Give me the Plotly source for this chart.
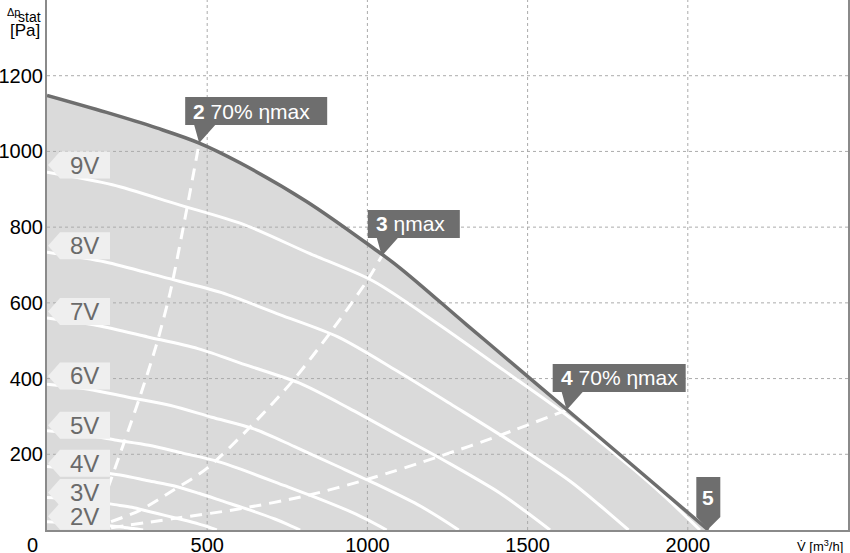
import plotly.graph_objects as go

# ---------------- data ----------------
max_x = [0, 186, 342, 475, 602, 810, 1018, 1102, 1310, 1500, 1830, 2064]
max_y = [1148, 1103, 1062, 1022, 970, 868, 745, 692, 542, 406, 169, 0]

volt_names = ["9V", "8V", "7V", "6V", "5V", "4V", "3V", "2V"]
label_y = [964, 751, 577, 407, 277, 176, 99, 36]

v9_x = [0, 204, 408, 611, 815, 1019, 1223, 1427, 1630, 1834, 1936, 2038]
v9_y = [945, 912, 860, 808, 732, 657, 543, 421, 298, 158, 82, 0]
v8_x = [0, 182, 363, 545, 726, 908, 1089, 1271, 1452, 1634, 1724, 1815]
v8_y = [734, 708, 668, 627, 569, 510, 422, 327, 231, 128, 66, 0]
v7_x = [0, 157, 314, 471, 628, 785, 942, 1099, 1256, 1413, 1492, 1570]
v7_y = [560, 540, 510, 479, 434, 389, 322, 249, 176, 98, 50, 0]
v6_x = [0, 129, 257, 386, 514, 643, 771, 900, 1028, 1157, 1221, 1285]
v6_y = [385, 372, 350, 329, 298, 268, 221, 171, 121, 67, 35, 0]
v5_x = [0, 106, 212, 318, 424, 530, 636, 742, 848, 954, 1007, 1060]
v5_y = [262, 253, 238, 224, 203, 182, 151, 117, 83, 46, 24, 0]
v4_x = [0, 79, 158, 237, 316, 395, 474, 553, 632, 711, 751, 790]
v4_y = [168, 162, 153, 144, 130, 117, 97, 75, 53, 29, 15, 0]
v3_x = [0, 53, 106, 159, 212, 265, 318, 371, 424, 477, 504, 530]
v3_y = [86, 83, 78, 74, 67, 60, 49, 38, 27, 15, 8, 0]
v2_x = [0, 60, 120, 180, 240, 270, 300]
v2_y = [22, 20, 17, 12.6, 7, 3.9, 0]

sys2_x = [190, 240, 290, 340, 384, 430, 475]
sys2_y = [110, 230, 352, 485, 626, 820, 1022]
sys3_x = [200, 290, 394, 498, 634, 769, 883, 1001, 1045]
sys3_y = [22, 52, 105, 162, 272, 396, 520, 661, 724]
sys4_x = [200, 394, 602, 811, 1001, 1227, 1414, 1622]
sys4_y = [6, 30, 56, 91, 134, 195, 250, 317]

callout_num = ["2", "3", "4"]
callout_txt = ["70% ηmax", "ηmax", "70% ηmax"]
callout_x = [475, 1045, 1622]
callout_y = [1022, 724, 317]
point5_x = 2064
point5_y = 0

x_ticks = [500, 1000, 1500, 2000]
y_ticks = [200, 400, 600, 800, 1000, 1200]

# ---------------- styles ----------------
FONT = "Liberation Sans, Arial, sans-serif"
FILL = "#dadada"
DARK = "#6e6e6e"
GRID = "#ababab"
LABEL_BG = "#efefef"
LABEL_TXT = "#6a6a6a"
callout_w = [142, 92, 133]

fig = go.Figure()

# filled area under max curve
fig.add_trace(go.Scatter(x=max_x, y=max_y, mode="lines", fill="tozeroy",
                         fillcolor=FILL, line=dict(width=0, shape="spline", smoothing=1.0),
                         hoverinfo="skip", showlegend=False))

# grid lines drawn above the fill
gx, gy = [], []
for v in x_ticks:
    gx += [v, v, None]
    gy += [0, 1400, None]
for v in y_ticks:
    gx += [0, 2500, None]
    gy += [v, v, None]
fig.add_trace(go.Scatter(x=gx, y=gy, mode="lines", line=dict(color=GRID, width=1, dash="3px,3px"),
                         hoverinfo="skip", showlegend=False))

# voltage curves
for xs, ys in [(v9_x, v9_y), (v8_x, v8_y), (v7_x, v7_y), (v6_x, v6_y),
               (v5_x, v5_y), (v4_x, v4_y), (v3_x, v3_y), (v2_x, v2_y)]:
    fig.add_trace(go.Scatter(x=xs, y=ys, mode="lines",
                             line=dict(color="white", width=3, shape="spline", smoothing=0.8),
                             hoverinfo="skip", showlegend=False))

# system (efficiency) curves, dashed
for xs, ys in [(sys2_x, sys2_y), (sys3_x, sys3_y), (sys4_x, sys4_y)]:
    fig.add_trace(go.Scatter(x=xs, y=ys, mode="lines",
                             line=dict(color="white", width=3, dash="12px,8px", shape="spline", smoothing=0.8),
                             hoverinfo="skip", showlegend=False))

# max curve
fig.add_trace(go.Scatter(x=max_x, y=max_y, mode="lines",
                         line=dict(color=DARK, width=3.5, shape="spline", smoothing=1.0),
                         hoverinfo="skip", showlegend=False))

shapes = []
annotations = []

# voltage labels
for name, ly in zip(volt_names, label_y):
    shapes.append(dict(type="path", xref="x", yref="y", xsizemode="pixel", ysizemode="pixel",
                       xanchor=0, yanchor=ly,
                       path="M1,0 L13,13.5 L63,13.5 L63,-13.5 L13,-13.5 Z",
                       fillcolor=LABEL_BG, line=dict(width=0), layer="above"))
    annotations.append(dict(x=0, y=ly, xref="x", yref="y", text=name, showarrow=False,
                            xanchor="center", yanchor="middle", xshift=37.5, yshift=0,
                            font=dict(family=FONT, size=24, color=LABEL_TXT)))

# callouts 2,3,4
PH, BH = 18, 28
for num, txt, cx, cy, w in zip(callout_num, callout_txt, callout_x, callout_y, callout_w):
    path = (f"M0,0 L-5,{PH} L-14,{PH} L-14,{PH+BH} L{w-14},{PH+BH} "
            f"L{w-14},{PH} L16,{PH} Z")
    shapes.append(dict(type="path", xref="x", yref="y", xsizemode="pixel", ysizemode="pixel",
                       xanchor=cx, yanchor=cy, path=path,
                       fillcolor=DARK, line=dict(width=0), layer="above"))
    annotations.append(dict(x=cx, y=cy, xref="x", yref="y", text=f"<b>{num}</b> {txt}",
                            showarrow=False, xanchor="left", yanchor="middle",
                            xshift=-8, yshift=PH + BH / 2,
                            font=dict(family=FONT, size=21, color="white")))

# callout 5
shapes.append(dict(type="path", xref="x", yref="y", xsizemode="pixel", ysizemode="pixel",
                   xanchor=point5_x, yanchor=point5_y,
                   path="M0,1 L-12,13 L-12,53 L12,53 L12,13 Z",
                   fillcolor=DARK, line=dict(width=0), layer="above"))
annotations.append(dict(x=point5_x, y=point5_y, xref="x", yref="y", text="<b>5</b>",
                        showarrow=False, xanchor="center", yanchor="middle",
                        xshift=0, yshift=33,
                        font=dict(family=FONT, size=21, color="white")))

# axis titles and corner zero
annotations += [
    dict(xref="paper", yref="paper", x=0, y=1, text="Δp", showarrow=False,
         xanchor="right", yanchor="middle", xshift=-25, yshift=-12,
         font=dict(family=FONT, size=11, color="black")),
    dict(xref="paper", yref="paper", x=0, y=1, text="stat", showarrow=False,
         xanchor="right", yanchor="middle", xshift=-4, yshift=-17,
         font=dict(family=FONT, size=14, color="black")),
    dict(xref="paper", yref="paper", x=0, y=1, text="[Pa]", showarrow=False,
         xanchor="right", yanchor="middle", xshift=-5, yshift=-30,
         font=dict(family=FONT, size=17, color="black")),
    dict(xref="paper", yref="paper", x=1, y=0, text="V̇ [m<sup>3</sup>/h]", showarrow=False,
         xanchor="left", yanchor="middle", xshift=-53, yshift=-16,
         font=dict(family=FONT, size=13, color="black")),
    dict(xref="paper", yref="paper", x=0, y=0, text="0", showarrow=False,
         xanchor="center", yanchor="middle", xshift=-15, yshift=-15,
         font=dict(family=FONT, size=20, color="black")),
]

fig.update_layout(
    width=850, height=553,
    margin=dict(l=47, r=2, t=0, b=23, pad=0, autoexpand=False),
    paper_bgcolor="white", plot_bgcolor="white",
    showlegend=False,
    shapes=shapes, annotations=annotations,
    font=dict(family=FONT, size=20, color="black"),
    xaxis=dict(range=[0, 2500], tickvals=x_ticks, showgrid=False, zeroline=False,
               showline=True, linecolor="#8a8a8a", linewidth=2, mirror=True,
               ticks="", tickfont=dict(family=FONT, size=20, color="black"),
               ticklabelstandoff=-4, automargin=False, fixedrange=True),
    yaxis=dict(range=[0, 1400], tickvals=y_ticks, showgrid=False, zeroline=False,
               showline=True, linecolor="#8a8a8a", linewidth=2, mirror=True,
               ticks="", tickfont=dict(family=FONT, size=20, color="black"),
               ticklabelstandoff=-2, automargin=False, fixedrange=True),
)

fig.write_html("out.html", config={"displayModeBar": False},
               post_script="document.body.style.margin='0px';document.body.style.overflow='hidden';")
